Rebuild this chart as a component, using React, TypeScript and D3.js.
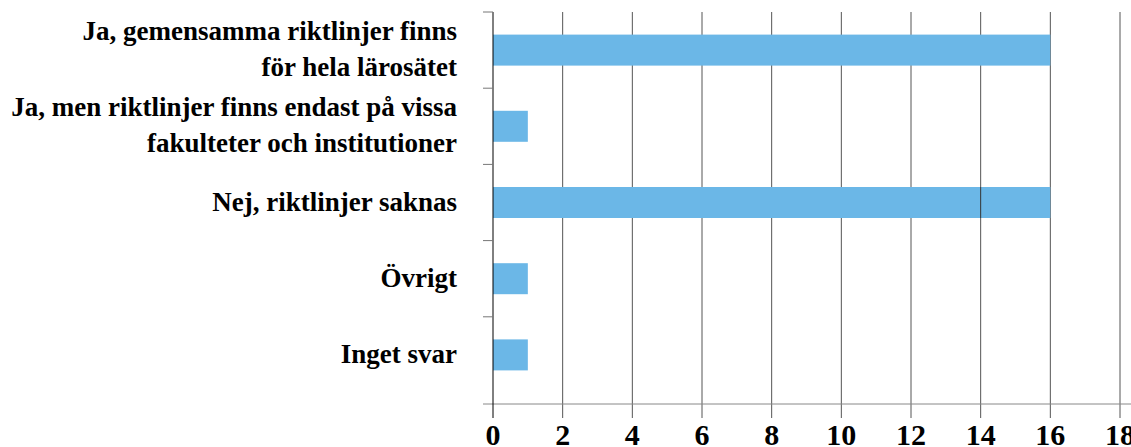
import React from "react";
import * as d3 from "d3";

const categories: string[][] = [
  ["Ja, gemensamma riktlinjer finns", "för hela lärosätet"],
  ["Ja, men riktlinjer finns endast på vissa", "fakulteter och institutioner"],
  ["Nej, riktlinjer saknas"],
  ["Övrigt"],
  ["Inget svar"],
];
const values: number[] = [16, 1, 16, 1, 1];
const xTicks: number[] = [0, 2, 4, 6, 8, 10, 12, 14, 16, 18];

const W = 1131;
const H = 447;
const left = 493;
const right = 1120;
const top = 12;
const bandBottom = 393;
const axisY = 404;
const fontFamily = "Liberation Serif";

export default function App() {
  const x = d3.scaleLinear().domain([0, 18]).range([left, right]);
  const y = d3
    .scaleBand<number>()
    .domain(d3.range(categories.length))
    .range([top, bandBottom])
    .paddingInner(0)
    .paddingOuter(0);
  const bw = y.bandwidth();
  const barH = 31;
  const bandEdges = d3.range(categories.length).map((i) => y(i)!);

  return (
    <div style={{ position: "fixed", left: 0, top: 0, width: W, height: H, overflow: "hidden" }}>
      <svg width={W} height={H} style={{ display: "block", background: "#fff" }}>
        {xTicks.slice(1).map((t) => (
          <line key={"g" + t} x1={x(t)} x2={x(t)} y1={top} y2={418} stroke="#555" strokeWidth={1} />
        ))}
        {values.map((v, i) => (
          <rect
            key={"b" + i}
            x={x(0)}
            y={y(i)! + bw / 2 - barH / 2}
            width={x(v) - x(0)}
            height={barH}
            fill="#6bb7e7"
          />
        ))}
        <line x1={x(14)} x2={x(14)} y1={y(2)! + bw / 2 - barH / 2} y2={y(2)! + bw / 2 + barH / 2} stroke="#333" strokeWidth={1} />
        <line x1={483} x2={W} y1={axisY} y2={axisY} stroke="#888" strokeWidth={1} />
        <line x1={x(0)} x2={x(0)} y1={top} y2={418} stroke="#000" strokeWidth={1} />
        {bandEdges.map((e, i) => (
          <line key={"t" + i} x1={483} x2={x(0)} y1={e} y2={e} stroke="#777" strokeWidth={1} />
        ))}
        {categories.map((lines, i) => {
          const cy = y(i)! + bw / 2;
          const lh = 36;
          return (
            <text key={"l" + i} textAnchor="end" fontFamily={fontFamily} fontWeight="bold" fontSize={27} fill="#000">
              {lines.map((ln, j) => (
                <tspan key={j} x={457} y={cy + 8 + (j - (lines.length - 1) / 2) * lh}>
                  {ln}
                </tspan>
              ))}
            </text>
          );
        })}
        {xTicks.map((t) => (
          <text key={"x" + t} x={x(t)} y={445} textAnchor="middle" fontFamily={fontFamily} fontWeight="bold" fontSize={30} fill="#000">
            {t}
          </text>
        ))}
      </svg>
    </div>
  );
}
